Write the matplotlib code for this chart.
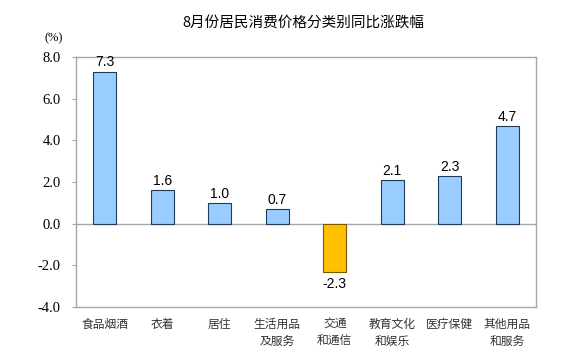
import matplotlib
matplotlib.use("Agg")
import matplotlib.pyplot as plt

plt.rcParams["font.family"] = ["Noto Sans CJK SC", "DejaVu Sans"]

categories = ["食品烟酒", "衣着", "居住", "生活用品\n及服务", "交通\n和通信",
              "教育文化\n和娱乐", "医疗保健", "其他用品\n和服务"]
values = [7.3, 1.6, 1.0, 0.7, -2.3, 2.1, 2.3, 4.7]
yticks = [-4.0, -2.0, 0.0, 2.0, 4.0, 6.0, 8.0]

BLUE = "#99ccff"
ORANGE = "#ffc000"
GRID = "#a6a6a6"

fig = plt.figure(figsize=(5.8, 3.58), dpi=100)
ax = fig.add_axes([76 / 580, 1 - 307 / 358, 460 / 580, 250 / 358])

x = list(range(len(values)))
colors = [BLUE if v >= 0 else ORANGE for v in values]
edges = ["#1f3b5a" if v >= 0 else "#7a5a00" for v in values]
ax.bar(x, values, width=0.4, color=colors, edgecolor=edges, linewidth=0.8, zorder=3)

for xi, v in zip(x, values):
    if v >= 0:
        ax.text(xi, v + 0.1, f"{v:.1f}", ha="center", va="bottom",
                fontsize=10, family="Liberation Sans")
    else:
        ax.text(xi, v - 0.25, f"{v:.1f}", ha="center", va="top",
                fontsize=10, family="Liberation Sans")

ax.set_xlim(-0.5, len(values) - 0.5)
ax.set_ylim(-4, 8)
ax.axhline(0, color=GRID, linewidth=1.0, zorder=2)

ax.set_yticks(yticks)
ax.set_yticklabels([f"{t:.1f}" for t in yticks])
for lab in ax.get_yticklabels():
    lab.set_fontfamily("Liberation Serif")
    lab.set_fontsize(10.5)
ax.set_xticks(x)
ax.set_xticklabels(categories, fontsize=8.5, color="#333333", linespacing=1.35)
ax.tick_params(axis="x", length=0, pad=8)
ax.tick_params(axis="y", length=3, color=GRID, pad=8)

for s in ax.spines.values():
    s.set_color(GRID)
    s.set_linewidth(1.0)

fig.text(54 / 580, 1 - 38 / 358, "(%)", ha="center", va="center",
         fontsize=9, family="Liberation Serif")
fig.text(303 / 580, 1 - 23 / 358, "8月份居民消费价格分类别同比涨跌幅",
         ha="center", va="center", fontsize=10.5)

fig.savefig("out.png", dpi=100)
